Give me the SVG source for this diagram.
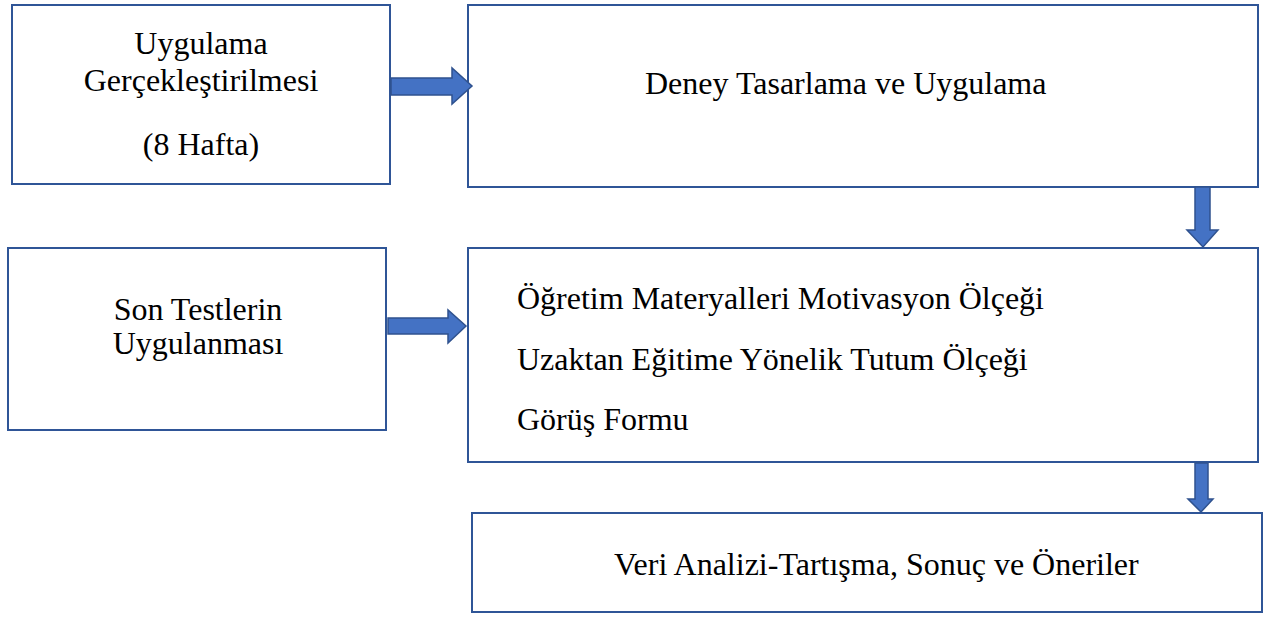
<svg xmlns="http://www.w3.org/2000/svg" width="1273" height="619" viewBox="0 0 1273 619">
<style>
.box{fill:#fff;stroke:#2F5597;stroke-width:2}
.arr{fill:#4472C4;stroke:#2F528F;stroke-width:1.5}
.t{font-family:"Liberation Serif","Times New Roman",serif;font-size:32px;fill:#000}
.c{text-anchor:middle}
</style>
<rect width="1273" height="619" fill="#fff"/>
<g id="n1"><rect class="box" x="12" y="5" width="378" height="179"/>
<text class="t c" x="201" y="54">Uygulama</text><text class="t c" x="201" y="91">Gerçekleştirilmesi</text><text class="t c" x="201" y="155">(8 Hafta)</text></g>
<g id="n2"><rect class="box" x="468" y="5" width="790" height="182"/>
<text class="t" x="645" y="94">Deney Tasarlama ve Uygulama</text></g>
<g id="n3"><rect class="box" x="8" y="248" width="378" height="182"/>
<text class="t c" x="198" y="320">Son Testlerin</text><text class="t c" x="198" y="354">Uygulanması</text></g>
<g id="n4"><rect class="box" x="468" y="248" width="790" height="214"/>
<text class="t" x="517" y="309">Öğretim Materyalleri Motivasyon Ölçeği</text>
<text class="t" x="517" y="370">Uzaktan Eğitime Yönelik Tutum Ölçeği</text>
<text class="t" x="517" y="430">Görüş Formu</text></g>
<g id="n5"><rect class="box" x="472" y="513" width="790" height="99"/>
<text class="t" x="614" y="575">Veri Analizi-Tartışma, Sonuç ve Öneriler</text></g>
<g id="connectors">
<polygon class="arr" points="391,78 452,78 452,68 472,86 452,104 452,95 391,95"/>
<polygon class="arr" points="388,318 448,318 448,310 466,326 448,343 448,334 388,334"/>
<polygon class="arr" points="1195,187 1210,187 1210,230 1218,230 1203,247 1187,230 1195,230"/>
<polygon class="arr" points="1195,463 1208,463 1208,499 1213,499 1201,512 1188,499 1195,499"/>
</g>
</svg>
